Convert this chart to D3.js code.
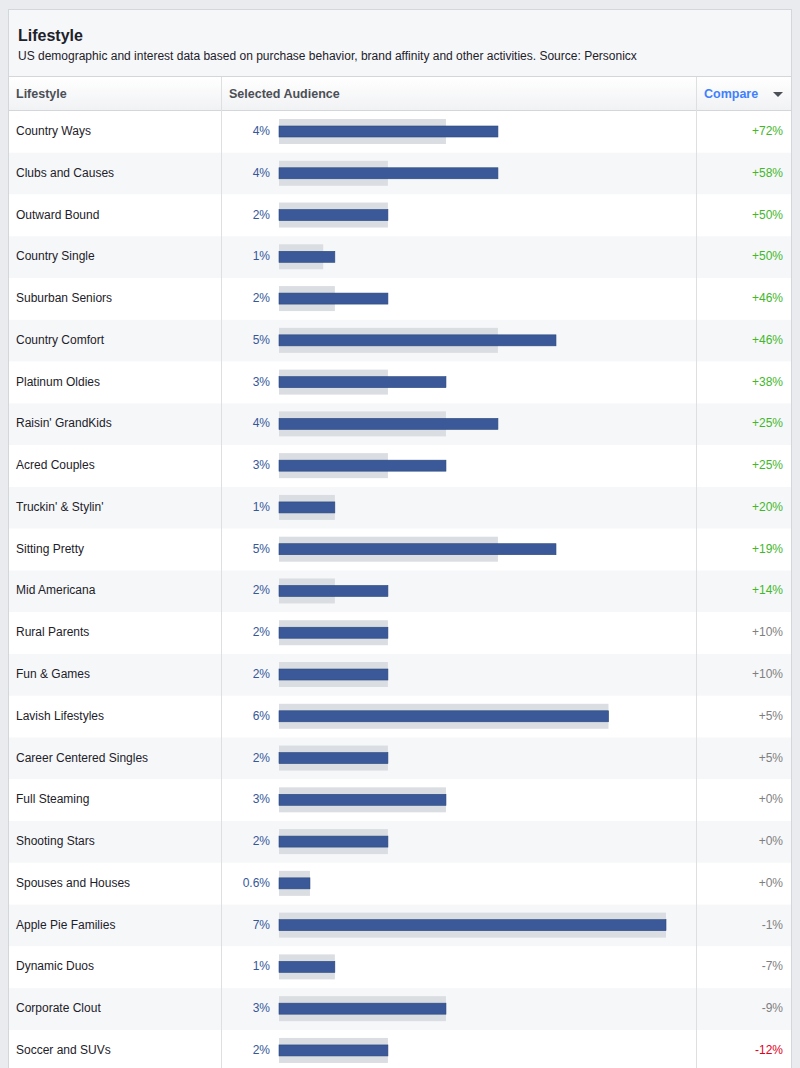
<!DOCTYPE html>
<html><head><meta charset="utf-8">
<script src="https://cdn.jsdelivr.net/npm/d3@7"></script>
<style>body{margin:0;background:#e9ebee;font-family:"Liberation Sans",Arial,sans-serif;}</style>
</head><body><svg id="c" width="800" height="1068"></svg>
<script>
const categories=["Country Ways","Clubs and Causes","Outward Bound","Country Single","Suburban Seniors","Country Comfort","Platinum Oldies","Raisin' GrandKids","Acred Couples","Truckin' & Stylin'","Sitting Pretty","Mid Americana","Rural Parents","Fun & Games","Lavish Lifestyles","Career Centered Singles","Full Steaming","Shooting Stars","Spouses and Houses","Apple Pie Families","Dynamic Duos","Corporate Clout","Soccer and SUVs"];
const selectedLabels=["4%","4%","2%","1%","2%","5%","3%","4%","3%","1%","5%","2%","2%","2%","6%","2%","3%","2%","0.6%","7%","1%","3%","2%"];
const selected=[3.96,3.96,1.97,1.01,1.97,5.01,3.02,3.96,3.02,1.01,5.01,1.97,1.97,1.97,5.96,1.97,3.02,1.97,0.56,7.0,1.01,3.02,1.97];
const baseline=[3.02,1.97,1.97,0.8,1.01,3.96,1.97,3.02,1.97,1.01,3.96,1.01,1.97,1.97,5.96,1.97,3.02,1.97,0.56,7.0,1.01,3.02,1.97];
const compare=[72,58,50,50,46,46,38,25,25,20,19,14,10,10,5,5,0,0,0,-1,-7,-9,-12];

const svg=d3.select("#c");
svg.append("rect").attr("x",8.5).attr("y",9.5).attr("width",783).attr("height",1070).attr("fill","#fff").attr("stroke","#d3d6db");
svg.append("rect").attr("x",9).attr("y",10).attr("width",782).attr("height",66).attr("fill","#f6f7f9");
svg.append("text").attr("x",18).attr("y",41).attr("font-size",16).attr("font-weight","bold").attr("fill","#1d2129").text("Lifestyle");
svg.append("text").attr("x",18).attr("y",60).attr("font-size",12).attr("fill","#1d2129").text("US demographic and interest data based on purchase behavior, brand affinity and other activities. Source: Personicx");
const g=svg.append("defs").append("linearGradient").attr("id","hg").attr("x1",0).attr("x2",0).attr("y1",0).attr("y2",1);
g.append("stop").attr("offset",0).attr("stop-color","#fff");g.append("stop").attr("offset",1).attr("stop-color","#f1f2f4");
svg.append("rect").attr("x",9).attr("y",77).attr("width",782).attr("height",33).attr("fill","url(#hg)");
svg.append("line").attr("x1",9).attr("x2",791).attr("y1",76.5).attr("y2",76.5).attr("stroke","#d3d6db");
svg.append("line").attr("x1",9).attr("x2",791).attr("y1",110.5).attr("y2",110.5).attr("stroke","#d3d6db");
svg.append("text").attr("x",16).attr("y",98).attr("font-size",12.5).attr("font-weight","bold").attr("fill","#4b4f56").text("Lifestyle");
svg.append("text").attr("x",229).attr("y",98).attr("font-size",12.5).attr("font-weight","bold").attr("fill","#4b4f56").text("Selected Audience");
svg.append("text").attr("x",704).attr("y",98).attr("font-size",12.5).attr("font-weight","bold").attr("fill","#4080ff").text("Compare");
svg.append("path").attr("d","M773,92 h10 l-5,5 z").attr("fill","#4b4f56");

const y=d3.scaleBand().domain(categories).range([111,111+41.77*categories.length]);
const x=d3.scaleLinear().domain([0,7]).range([279,666]);
const rows=svg.selectAll("g.r").data(categories).join("g").attr("transform",d=>`translate(0,${y(d)})`);
rows.append("rect").attr("x",9).attr("width",782).attr("height",y.bandwidth()).attr("fill",(d,i)=>i%2?"#f6f7f9":"#fff");
rows.append("text").attr("x",16).attr("y",24).attr("font-size",12).attr("fill","#1d2129").text(d=>d);
rows.append("text").attr("x",270).attr("y",24).attr("text-anchor","end").attr("font-size",12).attr("fill","#365899").text((d,i)=>selectedLabels[i]);
rows.append("rect").attr("x",x(0)).attr("y",8).attr("height",25).attr("width",(d,i)=>x(baseline[i])-x(0)).attr("fill","#dadde1");
rows.append("rect").attr("x",x(0)).attr("y",15).attr("height",11).attr("width",(d,i)=>x(selected[i])-x(0)).attr("fill","#3b5998").attr("stroke","#29487d").attr("stroke-width",0.6);
rows.append("text").attr("x",783).attr("y",24).attr("text-anchor","end").attr("font-size",12)
 .attr("fill",(d,i)=>compare[i]>10?"#42b72a":compare[i]<-10?"#e2001a":"#7f7f7f")
 .text((d,i)=>(compare[i]>=0?"+":"")+compare[i]+"%");
svg.append("line").attr("x1",221.5).attr("x2",221.5).attr("y1",77).attr("y2",1068).attr("stroke","#dddfe2");
svg.append("line").attr("x1",696.5).attr("x2",696.5).attr("y1",77).attr("y2",1068).attr("stroke","#dddfe2");
</script></body></html>
